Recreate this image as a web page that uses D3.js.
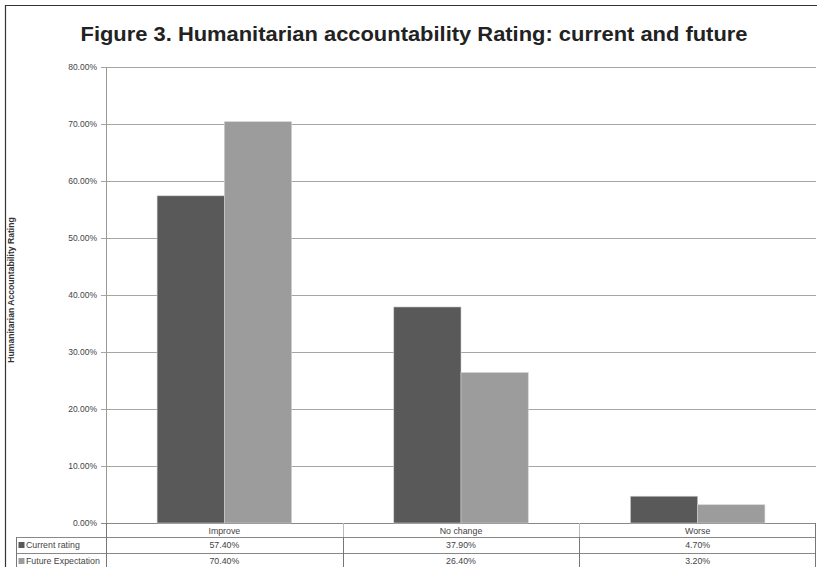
<!DOCTYPE html>
<html>
<head>
    <title>Humanitarian accountability Rating</title>
</head>
<style>
body { margin: 0; background: #fff; }
svg text { font-family: "Liberation Sans", Arial, sans-serif; }
</style>
<body>
<script src="https://cdn.jsdelivr.net/npm/d3@7"></script>
<script>

var categories = ["Improve", "No change", "Worse"];
var seriesNames = ["Current rating", "Future Expectation"];
var currentRating = [57.4, 37.9, 4.7];
var futureExpectation = [70.4, 26.4, 3.2];
var yTicks = [0, 10, 20, 30, 40, 50, 60, 70, 80];
var colors = ["#595959", "#9c9c9c"];

var w = 817, h = 567;
var plotLeft = 106, plotRight = 816, plotTop = 67, plotBottom = 523;
var rowH = [14, 16, 16];

var svg = d3.select("body").append("svg")
    .attr("width", w)
    .attr("height", h);

// outer frame (cropped at right and bottom)
svg.append("path")
    .attr("d", "M5.5," + h + "V5.5H" + w)
    .attr("fill", "none")
    .attr("stroke", "#333")
    .attr("stroke-width", 1.2);

svg.append("text")
    .attr("x", 414)
    .attr("y", 41)
    .attr("text-anchor", "middle")
    .attr("font-size", "21px")
    .attr("font-weight", "bold")
    .attr("fill", "#222")
    .attr("textLength", 667)
    .attr("lengthAdjust", "spacingAndGlyphs")
    .text("Figure 3. Humanitarian accountability Rating: current and future");

var x = d3.scaleBand().domain(categories).range([plotLeft, plotRight]);
var xInner = d3.scaleBand().domain(seriesNames)
    .range([0, x.bandwidth()]).paddingOuter(0.76);
var y = d3.scaleLinear().domain([0, 80]).range([plotBottom, plotTop]);

// gridlines
svg.selectAll("line.grid")
    .data(yTicks)
    .enter()
    .append("line")
    .attr("x1", plotLeft - 5)
    .attr("x2", plotRight)
    .attr("y1", function(d) { return Math.round(y(d)) + 0.5; })
    .attr("y2", function(d) { return Math.round(y(d)) + 0.5; })
    .attr("stroke", function(d) { return d === 0 ? "#888" : "#a6a6a6"; })
    .attr("stroke-width", 1);

svg.append("line")
    .attr("x1", plotLeft + 0.5).attr("x2", plotLeft + 0.5)
    .attr("y1", plotTop).attr("y2", plotBottom)
    .attr("stroke", "#999");

svg.selectAll("text.ytick")
    .data(yTicks)
    .enter()
    .append("text")
    .attr("x", 97)
    .attr("y", function(d) { return y(d) + 3; })
    .attr("text-anchor", "end")
    .attr("font-size", "8.5px")
    .attr("fill", "#444")
    .text(function(d) { return d.toFixed(2) + "%"; });

svg.append("text")
    .attr("transform", "translate(14," + ((plotTop + plotBottom) / 2 - 5) + ") rotate(-90)")
    .attr("text-anchor", "middle")
    .attr("font-size", "8.6px")
    .attr("font-weight", "bold")
    .attr("fill", "#333")
    .text("Humanitarian Accountability  Rating");

// bars
var series = [currentRating, futureExpectation];
series.forEach(function(vals, s) {
    svg.selectAll("rect.s" + s)
        .data(vals)
        .enter()
        .append("rect")
        .attr("x", function(d, i) { return x(categories[i]) + xInner(seriesNames[s]); })
        .attr("y", function(d) { return y(d); })
        .attr("width", xInner.bandwidth())
        .attr("height", function(d) { return plotBottom - y(d); })
        .attr("fill", colors[s])
        .attr("stroke", "#d0d0d0")
        .attr("stroke-width", 0.6);
});

// data table
var r0 = plotBottom, r1 = r0 + rowH[0], r2 = r1 + rowH[1], r3 = r2 + rowH[2];
var tbl = svg.append("g");

tbl.append("line").attr("x1", 16).attr("x2", plotRight).attr("y1", r1 + 0.5).attr("y2", r1 + 0.5).attr("stroke", "#888");
tbl.append("line").attr("x1", 16).attr("x2", plotRight).attr("y1", r2 + 0.5).attr("y2", r2 + 0.5).attr("stroke", "#888");
tbl.append("line").attr("x1", 16.5).attr("x2", 16.5).attr("y1", r1).attr("y2", r3).attr("stroke", "#777");
tbl.append("line").attr("x1", plotLeft + 0.5).attr("x2", plotLeft + 0.5).attr("y1", r0).attr("y2", r3).attr("stroke", "#777");
tbl.append("line").attr("x1", plotRight - 0.5).attr("x2", plotRight - 0.5).attr("y1", r0).attr("y2", r3).attr("stroke", "#777");

tbl.selectAll("g.sep")
    .data(categories.slice(1))
    .enter()
    .append("g")
    .each(function(c) {
        var xx = Math.round(x(c)) + 0.5;
        d3.select(this).append("line")
            .attr("x1", xx).attr("x2", xx).attr("y1", r0).attr("y2", r1)
            .attr("stroke", "#bbb");
        d3.select(this).append("line")
            .attr("x1", xx).attr("x2", xx).attr("y1", r1).attr("y2", r3)
            .attr("stroke", "#777");
    });

tbl.selectAll("text.cat")
    .data(categories)
    .enter()
    .append("text")
    .attr("x", function(d) { return x(d) + x.bandwidth() / 2; })
    .attr("y", r0 + 10.5)
    .attr("text-anchor", "middle")
    .attr("font-size", "8.8px")
    .attr("fill", "#444")
    .text(function(d) { return d; });

var rowTops = [r1, r2];
series.forEach(function(vals, s) {
    tbl.append("rect")
        .attr("x", 18.5).attr("y", rowTops[s] + 5)
        .attr("width", 6).attr("height", 6)
        .attr("fill", colors[s]);
    tbl.append("text")
        .attr("x", 26).attr("y", rowTops[s] + 11)
        .attr("font-size", "8.8px")
        .attr("fill", "#444")
        .text(seriesNames[s]);
    tbl.selectAll("text.v" + s)
        .data(vals)
        .enter()
        .append("text")
        .attr("x", function(d, i) { return x(categories[i]) + x.bandwidth() / 2; })
        .attr("y", rowTops[s] + 11)
        .attr("text-anchor", "middle")
        .attr("font-size", "8.8px")
        .attr("fill", "#444")
        .text(function(d) { return d.toFixed(2) + "%"; });
});

</script>
</body>
</html>
